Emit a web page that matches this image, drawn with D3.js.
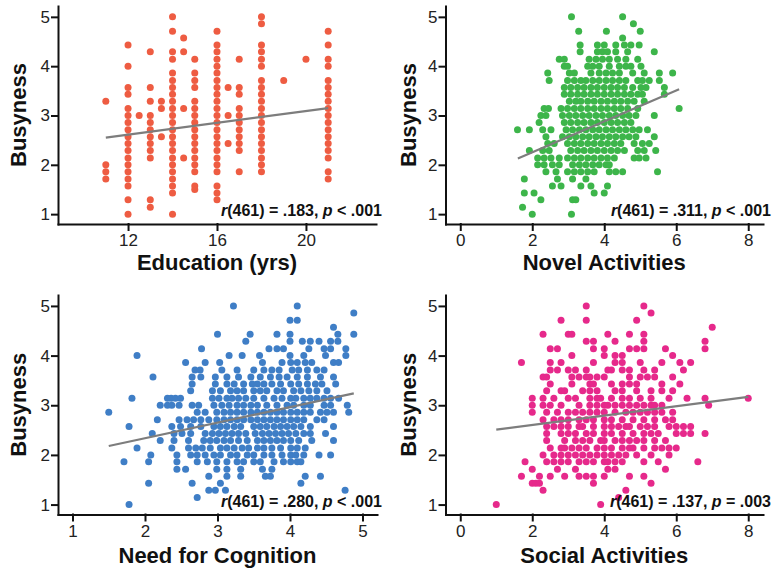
<!DOCTYPE html>
<html lang="en">
<head>
<meta charset="UTF-8">
<title>Busyness correlates</title>
<script src="https://d3js.org/d3.v7.min.js"></script>
<style>
  body { margin: 0; background: #fff; }
  svg { display: block; font-family: "Liberation Sans", Arial, Helvetica, sans-serif; }
  .axis .domain, .axis line { stroke: #111; stroke-width: 2; stroke-linecap: square; }
  .axis text { font-size: 17px; fill: #222; font-family: "Liberation Sans", Arial, sans-serif; }
  .lab { font-size: 22px; font-weight: bold; fill: #111; }
  .stat { font-size: 16px; font-weight: bold; fill: #111; }
</style>
</head>
<body>
<script>
// ---- data ----
const busyTicks = [1, 2, 3, 4, 5];

// busyness levels (rows) shared by the three continuous panels
const busyLevels = [5.0, 4.86, 4.71, 4.57, 4.43, 4.29, 4.14, 4.0, 3.86, 3.71, 3.57, 3.43, 3.29, 3.14,
  3.0, 2.86, 2.71, 2.57, 2.43, 2.29, 2.14, 2.0, 1.86, 1.71, 1.57, 1.43, 1.29, 1.14, 1.0];

// Education: one column of busyness values per number of years
const eduTicks = [12, 16, 20];
const eduYears = [11, 12, 12.5, 13, 13.5, 14, 14.5, 15, 16, 16.5, 17, 18, 19, 20, 21];
const eduBusy = [
  [3.29, 2.0, 1.86, 1.71],
  [4.43, 4.0, 3.57, 3.43, 3.14, 3.0, 2.86, 2.71, 2.57, 2.43, 2.29, 2.14, 2.0, 1.86, 1.71, 1.57, 1.29, 1.0],
  [3.0],
  [4.29, 3.57, 3.29, 3.0, 2.86, 2.71, 2.57, 2.43, 2.29, 2.14, 1.29, 1.14],
  [3.29, 3.14, 2.57],
  [5.0, 4.71, 4.29, 4.14, 3.86, 3.71, 3.57, 3.43, 3.29, 3.14, 3.0, 2.86, 2.71, 2.57, 2.43, 2.29, 2.14, 2.0, 1.86, 1.71, 1.57, 1.43, 1.0],
  [4.57, 4.29, 3.14, 2.14],
  [4.14, 3.86, 3.71, 3.57, 3.29, 3.14, 3.0, 2.86, 2.71, 2.57, 2.43, 2.29, 2.14, 2.0, 1.86, 1.57, 1.5],
  [4.71, 4.43, 4.29, 4.14, 4.0, 3.86, 3.71, 3.57, 3.43, 3.29, 3.14, 3.0, 2.86, 2.71, 2.57, 2.43, 2.29, 2.14, 2.0, 1.86, 1.57, 1.43, 1.29],
  [3.57, 3.0, 2.43],
  [4.14, 3.57, 3.43, 3.14, 3.0, 2.86, 2.71, 2.57, 2.43, 2.29, 1.86],
  [5.0, 4.86, 4.43, 4.29, 4.14, 4.0, 3.71, 3.57, 3.43, 3.29, 3.14, 3.0, 2.86, 2.71, 2.57, 2.43, 2.29, 2.14, 2.0, 1.86],
  [3.71],
  [4.14],
  [4.71, 4.43, 4.14, 4.0, 3.71, 3.57, 3.43, 3.29, 3.14, 3.0, 2.86, 2.71, 2.57, 2.43, 2.29, 2.14, 1.86, 1.71]
];
const eduFit = [[11, 2.55], [21, 3.15]];

// Novel activities: x values for each busyness row
const actTicks = [0, 2, 4, 6, 8];
const novelAct = [
  [3.09, 4.51],
  [4.81],
  [3.29, 4.06, 5.0],
  [4.51],
  [3.33, 3.81, 4.0, 4.32, 4.56, 4.74, 4.97],
  [3.33, 3.81, 3.95, 4.09, 4.32, 4.65, 5.39],
  [2.75, 2.89, 3.58, 3.77, 3.95, 4.14, 4.37, 4.6, 4.93],
  [2.89, 2.98, 3.54, 3.68, 3.86, 4.14, 4.42, 4.6, 4.74, 5.02],
  [2.43, 3.03, 3.17, 3.63, 3.86, 4.05, 4.23, 4.42, 4.79, 5.11, 5.53, 5.9],
  [2.47, 2.98, 3.17, 3.35, 3.49, 3.68, 3.86, 4.05, 4.23, 4.42, 4.6, 4.93, 5.06, 5.25, 5.53],
  [2.89, 3.07, 3.26, 3.44, 3.63, 3.81, 4.0, 4.19, 4.37, 4.56, 4.79, 5.02, 5.16, 5.67],
  [2.89, 3.07, 3.26, 3.44, 3.63, 3.81, 4.0, 4.19, 4.37, 4.56, 4.74, 4.93, 5.06, 5.67],
  [3.03, 3.21, 3.35, 3.54, 3.72, 3.91, 4.09, 4.28, 4.46, 4.65, 4.83, 5.11],
  [2.33, 2.45, 2.8, 2.98, 3.17, 3.35, 3.54, 3.72, 3.91, 4.09, 4.28, 4.46, 4.65, 4.93, 6.08],
  [2.24, 2.38, 2.84, 3.03, 3.21, 3.4, 3.58, 3.77, 3.95, 4.14, 4.32, 4.51, 4.69, 4.88, 5.39],
  [2.19, 2.89, 3.07, 3.26, 3.44, 3.63, 3.81, 4.0, 4.19, 4.37, 4.56, 4.74],
  [1.59, 1.92, 2.29, 2.52, 2.94, 3.12, 3.31, 3.49, 3.68, 3.86, 4.05, 4.23, 4.42, 4.6, 4.79, 4.97, 5.2],
  [2.38, 2.84, 3.03, 3.21, 3.4, 3.58, 3.77, 3.95, 4.14, 4.32, 4.51, 4.69, 4.88, 5.39],
  [2.43, 2.61, 2.98, 3.17, 3.35, 3.54, 3.72, 3.91, 4.09, 4.28, 4.46, 4.83, 5.06, 5.25],
  [1.92, 2.29, 2.47, 3.07, 3.26, 3.44, 3.63, 3.81, 4.0, 4.19, 4.37, 4.56, 4.93, 5.11, 5.43],
  [2.15, 2.33, 2.52, 2.75, 2.98, 3.17, 3.35, 3.54, 3.72, 3.91, 4.09, 4.28, 4.83, 4.97, 5.16],
  [2.15, 2.33, 2.56, 2.75, 3.12, 3.31, 3.49, 3.68, 3.86, 4.05, 4.14],
  [2.38, 2.66, 2.98, 3.17, 3.35, 3.54, 3.72, 4.14, 4.32, 4.51, 5.48],
  [1.78, 2.7, 3.12, 3.49],
  [2.56, 2.8, 3.35, 3.63, 4.09],
  [1.78, 2.05, 3.72, 4.0],
  [2.24, 3.12, 3.21],
  [1.73],
  [2.0, 3.09]
];
const novelFit = [[1.6, 2.13], [6.08, 3.53]];

// Need for cognition: x values for each busyness row
const nfcTicks = [1, 2, 3, 4, 5];
const nfcScore = [
  [3.22, 4.1],
  [4.88],
  [4.0, 4.1],
  [4.6],
  [3.0, 3.45, 3.82, 4.0, 4.66, 4.88],
  [3.39, 4.0, 4.17, 4.28, 4.4, 4.56, 4.66],
  [2.78, 3.71, 3.82, 3.91, 4.26, 4.47, 4.56, 4.77],
  [1.89, 3.16, 3.34, 3.58, 4.0, 4.19, 4.49, 4.77],
  [2.56, 2.83, 3.03, 3.62, 3.89, 4.01, 4.1, 4.21, 4.3, 4.6, 4.67],
  [2.69, 2.76, 3.06, 3.27, 3.5, 3.64, 3.75, 3.85, 4.03, 4.12, 4.24, 4.37, 4.47],
  [2.11, 2.65, 2.77, 2.97, 3.13, 3.29, 3.46, 3.59, 3.73, 3.85, 3.96, 4.1, 4.24, 4.42, 4.6],
  [2.65, 2.97, 3.13, 3.23, 3.36, 3.48, 3.55, 3.64, 3.75, 3.87, 4.01, 4.12, 4.24, 4.35, 4.44, 4.63],
  [2.63, 2.93, 3.04, 3.18, 3.27, 3.36, 3.5, 3.59, 3.68, 3.82, 3.91, 4.05, 4.15, 4.26, 4.37, 4.51],
  [1.82, 2.31, 2.36, 2.42, 2.49, 2.93, 3.02, 3.13, 3.2, 3.29, 3.39, 3.5, 3.64, 3.78, 3.89, 4.01, 4.08, 4.19, 4.28, 4.37, 4.47, 4.56, 4.67],
  [2.21, 2.31, 2.37, 2.47, 2.65, 2.74, 2.95, 3.06, 3.16, 3.27, 3.36, 3.46, 3.55, 3.68, 3.82, 3.96, 4.05, 4.19, 4.28, 4.47, 4.56, 4.79],
  [1.5, 2.72, 2.83, 2.99, 3.09, 3.18, 3.27, 3.36, 3.46, 3.55, 3.64, 3.73, 3.82, 3.91, 4.01, 4.1, 4.19, 4.28, 4.42, 4.51, 4.6, 4.81],
  [2.17, 2.47, 2.58, 2.67, 2.77, 2.88, 2.99, 3.09, 3.18, 3.27, 3.36, 3.46, 3.55, 3.64, 3.73, 3.82, 3.91, 4.01, 4.1, 4.19, 4.37, 4.47],
  [1.78, 2.37, 2.49, 2.63, 2.77, 2.95, 3.04, 3.13, 3.23, 3.32, 3.5, 3.59, 3.68, 3.78, 3.87, 3.96, 4.05, 4.15, 4.28, 4.6],
  [2.1, 2.4, 2.51, 2.63, 2.83, 2.93, 3.02, 3.11, 3.2, 3.29, 3.39, 3.52, 3.62, 3.71, 3.8, 3.89, 3.98, 4.08, 4.19, 4.28, 4.49],
  [2.21, 2.4, 2.6, 2.81, 2.9, 2.99, 3.09, 3.18, 3.29, 3.41, 3.55, 3.64, 3.73, 3.82, 3.91, 4.01, 4.12, 4.3, 4.6],
  [1.89, 2.37, 2.6, 2.7, 2.79, 2.9, 3.04, 3.13, 3.23, 3.34, 3.43, 3.55, 3.64, 3.75, 3.87, 4.01, 4.1, 4.21],
  [2.08, 2.44, 2.63, 2.72, 2.83, 2.95, 3.04, 3.18, 3.27, 3.41, 3.5, 3.64, 3.75, 3.89, 4.01, 4.08, 4.19, 4.4, 4.56],
  [1.71, 2.05, 2.44, 2.72, 2.86, 2.99, 3.13, 3.27, 3.36, 3.5, 3.59, 3.78, 3.91, 4.01, 4.1, 4.15],
  [2.44, 2.56, 2.99, 3.13, 3.32, 3.62, 3.75],
  [2.88, 3.13, 3.32, 3.66, 3.73, 4.21, 4.42],
  [2.05, 2.65, 3.04, 4.15],
  [2.88, 2.97, 3.11, 4.76],
  [2.72],
  [1.78]
];
const nfcFit = [[1.5, 2.18], [4.88, 3.24]];

// Social activities: x values for each busyness row
const socialAct = [
  [3.5, 5.1],
  [5.3],
  [2.8, 3.5, 4.9],
  [7.0],
  [2.3, 3.0, 3.1, 4.1, 4.7, 5.1],
  [3.5, 3.7, 4.3, 5.1, 6.8],
  [2.5, 2.7, 3.7, 4.0, 4.7, 4.9, 5.1, 5.7, 6.8],
  [3.1, 4.0, 4.3, 4.5, 5.9],
  [1.7, 2.5, 2.8, 3.7, 4.3, 4.5, 5.0, 5.6, 6.1, 6.4],
  [2.5, 2.7, 3.0, 3.2, 3.5, 4.1, 4.2, 4.5, 4.7, 5.1, 5.4, 6.2],
  [2.3, 2.4, 3.1, 3.3, 3.5, 3.6, 3.8, 4.0, 4.7, 5.0, 5.2, 5.4, 5.9],
  [2.5, 3.1, 3.6, 3.7, 4.2, 4.5, 4.7, 4.9, 5.6, 6.1],
  [2.4, 2.8, 2.9, 3.4, 3.6, 3.8, 4.3, 4.5, 4.9, 5.3, 5.6, 5.9],
  [2.0, 2.3, 2.6, 3.0, 3.2, 3.6, 3.8, 3.9, 4.2, 4.5, 4.7, 5.0, 5.3, 5.8, 6.3, 6.8, 8.0],
  [2.0, 2.3, 2.5, 2.8, 3.3, 3.6, 3.8, 4.0, 4.1, 4.3, 4.5, 4.7, 4.9, 5.1, 5.3, 5.4, 5.6, 6.9],
  [2.0, 2.4, 2.7, 3.0, 3.2, 3.4, 3.6, 3.8, 4.0, 4.3, 4.6, 4.8, 5.0, 5.2, 5.4, 5.6, 5.9],
  [2.3, 2.6, 2.8, 3.0, 3.3, 3.5, 3.7, 4.0, 4.2, 4.5, 4.8, 5.1, 5.4, 5.7, 5.9],
  [2.4, 2.6, 2.8, 3.0, 3.3, 3.4, 3.7, 4.0, 4.2, 4.4, 4.6, 4.7, 5.0, 5.2, 5.4, 5.8, 6.0, 6.2, 6.4],
  [2.4, 2.8, 3.0, 3.2, 3.5, 3.7, 4.0, 4.2, 4.5, 4.8, 5.1, 5.3, 5.5, 6.0, 6.2, 6.4, 6.8],
  [2.4, 2.9, 3.2, 3.4, 3.6, 3.9, 4.0, 4.3, 4.5, 4.7, 4.9, 5.1, 5.4, 5.7],
  [2.5, 2.8, 2.9, 3.1, 3.3, 3.5, 3.8, 4.0, 4.2, 4.5, 4.7, 4.8, 5.1, 5.4, 5.6, 5.8, 6.0],
  [2.3, 2.6, 2.8, 3.0, 3.2, 3.4, 3.6, 3.8, 4.0, 4.2, 4.4, 4.6, 4.9, 5.3, 5.8],
  [1.8, 2.4, 2.6, 2.8, 3.0, 3.3, 3.5, 3.7, 4.0, 4.1, 4.3, 4.5, 5.1, 5.5, 6.6],
  [2.0, 2.7, 3.2, 4.1, 4.3, 5.7],
  [1.7, 2.2, 2.5, 2.9, 3.3, 3.5, 3.7, 4.0, 4.7, 5.1],
  [2.0, 2.1, 2.2, 3.7, 5.3],
  [2.3, 4.6],
  [4.4],
  [1.0, 3.9]
];
const socialFit = [[1.0, 2.51], [8.0, 3.17]];

// ---- build point lists ----
const eduPoints = eduYears.flatMap((x, i) => eduBusy[i].map(y => ({ x, y })));
const fromRows = rows => busyLevels.flatMap((y, i) => rows[i].map(x => ({ x, y })));

const W = 773, H = 570;
const svg = d3.select("body").append("svg")
  .attr("width", W).attr("height", H);
svg.append("rect").attr("width", W).attr("height", H).attr("fill", "#fff");

const panels = [
  { x0: 58, x1: 376, top: 6, bot: 224, xDomain: [8.85, 23.15], xTicks: eduTicks,
    points: eduPoints, fit: eduFit, color: "#ee5c42", xLabel: "Education (yrs)",
    stat: [".183", "<", ".001"], yLabX: 26, xLabY: 270, statX: 382 },
  { x0: 445.5, x1: 763, top: 6, bot: 224, xDomain: [-0.41, 8.41], xTicks: actTicks,
    points: fromRows(novelAct), fit: novelFit, color: "#3db54a", xLabel: "Novel Activities",
    stat: [".311", "<", ".001"], yLabX: 416, xLabY: 270, statX: 771 },
  { x0: 58, x1: 377, top: 295, bot: 514.5, xDomain: [0.8, 5.2], xTicks: nfcTicks,
    points: fromRows(nfcScore), fit: nfcFit, color: "#3f7ec6", xLabel: "Need for Cognition",
    stat: [".280", "<", ".001"], yLabX: 26, xLabY: 563, statX: 382 },
  { x0: 445.5, x1: 763, top: 295, bot: 514.5, xDomain: [-0.41, 8.41], xTicks: actTicks,
    points: fromRows(socialAct), fit: socialFit, color: "#e6298b", xLabel: "Social Activities",
    stat: [".137", "=", ".003"], yLabX: 416, xLabY: 563, statX: 771 }
];

panels.forEach(p => {
  const x = d3.scaleLinear().domain(p.xDomain).range([p.x0, p.x1]);
  const y = d3.scaleLinear().domain([0.8, 5.22]).range([p.bot, p.top]);
  const g = svg.append("g");

  // dots
  g.append("g").selectAll("circle")
    .data(p.points)
    .join("circle")
    .attr("cx", d => x(d.x))
    .attr("cy", d => y(d.y))
    .attr("r", 3.5)
    .attr("fill", p.color);

  // regression line
  g.append("line")
    .attr("x1", x(p.fit[0][0])).attr("y1", y(p.fit[0][1]))
    .attr("x2", x(p.fit[1][0])).attr("y2", y(p.fit[1][1]))
    .attr("stroke", "#7d7d7d")
    .attr("stroke-width", 2.2);

  // axes
  g.append("g").attr("class", "axis")
    .attr("transform", `translate(0,${p.bot})`)
    .call(d3.axisBottom(x).tickValues(p.xTicks).tickSize(6).tickSizeOuter(0)
      .tickPadding(4).tickFormat(d3.format("d")));
  g.append("g").attr("class", "axis")
    .attr("transform", `translate(${p.x0},0)`)
    .call(d3.axisLeft(y).tickValues(busyTicks).tickSize(6).tickSizeOuter(0)
      .tickPadding(2).tickFormat(d3.format("d")));

  // labels
  g.append("text").attr("class", "lab")
    .attr("transform", `translate(${p.yLabX},${(p.top + p.bot) / 2}) rotate(-90)`)
    .attr("text-anchor", "middle")
    .text("Busyness");
  g.append("text").attr("class", "lab")
    .attr("x", (p.x0 + p.x1) / 2).attr("y", p.xLabY)
    .attr("text-anchor", "middle")
    .text(p.xLabel);

  // correlation note
  const t = g.append("text").attr("class", "stat")
    .attr("x", p.statX).attr("y", p.bot - 8)
    .attr("text-anchor", "end");
  t.append("tspan").attr("font-style", "italic").text("r");
  t.append("tspan").text(`(461) = ${p.stat[0]}, `);
  t.append("tspan").attr("font-style", "italic").text("p");
  t.append("tspan").text(` ${p.stat[1]} ${p.stat[2]}`);
});
</script>
</body>
</html>
